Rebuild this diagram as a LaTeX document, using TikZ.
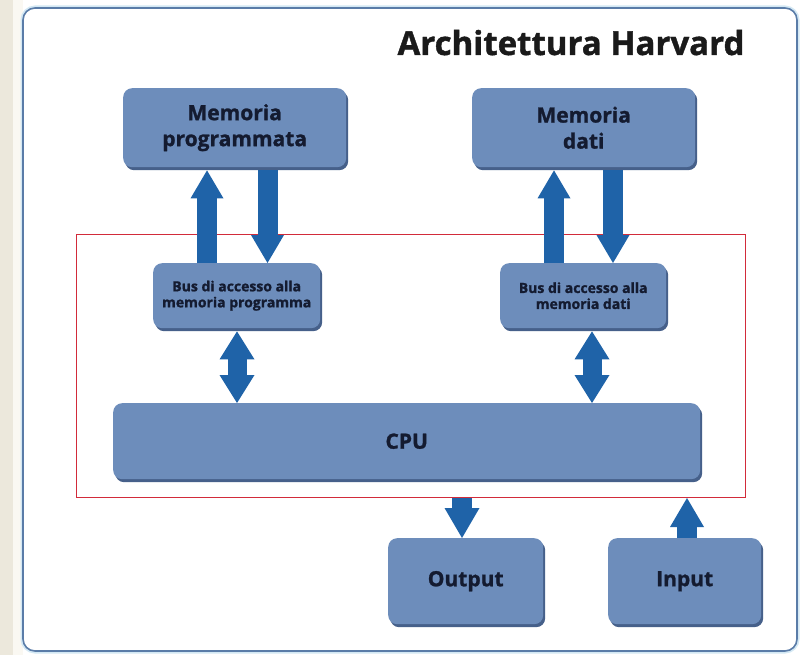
\documentclass[tikz,border=0pt]{standalone}
\usepackage{fontspec}
\setmainfont{Open Sans}[BoldFeatures={FakeBold=1.2}]
\usetikzlibrary{arrows.meta}
\definecolor{boxfill}{HTML}{6D8DBB}
\definecolor{boxshadow}{HTML}{46608A}
\definecolor{txt}{HTML}{141B30}
\definecolor{arrowc}{HTML}{1F63A8}
\definecolor{framec}{HTML}{5A7CA8}
\definecolor{glow}{HTML}{D3E8F4}
\definecolor{redc}{HTML}{D22B3A}
\definecolor{beige}{HTML}{ECE8DC}
\definecolor{cream}{HTML}{FAF8F2}
\definecolor{titlec}{HTML}{1A1A1A}
\begin{document}
\begin{tikzpicture}[x=1pt,y=-1pt,
  blk/.style={fill=boxfill, rounded corners=9pt, inner sep=0pt, anchor=north west,
    align=center, text=txt, font=\bfseries\fontsize{21}{26}\selectfont,
    preaction={fill=boxshadow, transform canvas={xshift=2pt,yshift=-3pt}}},
  busblk/.style={blk, font=\bfseries\fontsize{14}{16}\selectfont},
  bigarr/.style={draw=arrowc, line width=20pt,
    arrows={-{Triangle[width=33pt,length=28pt,line width=0pt]}}},
  dblarr/.style={draw=arrowc, line width=19pt,
    arrows={{Triangle[width=35pt,length=28pt,line width=0pt]}-{Triangle[width=35pt,length=28pt,line width=0pt]}}}
]
\useasboundingbox (0,0) rectangle (808,655);
\fill[white] (0,0) rectangle (808,655);
\fill[cream] (13,0) rectangle (23,655);
\fill[beige] (0,0) rectangle (13,655);
% outer frame
\draw[glow, line width=5pt, rounded corners=12pt] (23,8) rectangle (797,651);
\draw[framec, line width=1.6pt, rounded corners=12pt, fill=white] (23,8) rectangle (797,651);

\node[font=\bfseries\fontsize{33}{40}\selectfont, text=titlec, anchor=base] (title) at (571,55) {Architettura Harvard};

% red core rectangle
\node[draw=redc, line width=1pt, inner sep=0pt, anchor=north west,
      minimum width=669pt, minimum height=263pt] (core) at (76,234) {};

% boxes
\node[blk, minimum width=223pt, minimum height=79pt] (memP) at (123,88) {Memoria\\programmata};
\node[blk, minimum width=223pt, minimum height=79pt] (memD) at (472,88) {Memoria\\dati};
\node[busblk, minimum width=167pt, minimum height=65pt] (busP) at (153,263) {Bus di accesso alla\\memoria programma};
\node[busblk, minimum width=166pt, minimum height=65pt] (busD) at (500,263) {Bus di accesso alla\\memoria dati};
\node[blk, minimum width=587pt, minimum height=76pt] (cpu) at (113,403) {CPU};
\node[blk, minimum width=155pt, minimum height=86pt] (out) at (388,538) {Output};
\node[blk, minimum width=153pt, minimum height=86pt] (in) at (608,538) {Input};

% arrow columns
\coordinate (c1) at (207,0);
\coordinate (c2) at (267.5,0);
\coordinate (c3) at (554,0);
\coordinate (c4) at (613,0);
\coordinate (c5) at (237,0);
\coordinate (c6) at (592,0);
\coordinate (c7) at (462,0);
\coordinate (c8) at (687,0);

\draw[bigarr] (busP.north -| c1) -- ([yshift=-3pt]memP.south -| c1);
\draw[bigarr] ([yshift=-3pt]memP.south -| c2) -- (busP.north -| c2);
\draw[bigarr] (busD.north -| c3) -- ([yshift=-3pt]memD.south -| c3);
\draw[bigarr] ([yshift=-3pt]memD.south -| c4) -- (busD.north -| c4);
\draw[dblarr] ([yshift=-3pt]busP.south -| c5) -- (cpu.north -| c5);
\draw[dblarr] ([yshift=-3pt]busD.south -| c6) -- (cpu.north -| c6);
\draw[bigarr, arrows={-{Triangle[width=35pt,length=30pt,line width=0pt]}}] (core.south -| c7) -- (out.north -| c7);
\draw[bigarr, arrows={-{Triangle[width=34pt,length=29pt,line width=0pt]}}] (in.north -| c8) -- (core.south -| c8);
\end{tikzpicture}
\end{document}
